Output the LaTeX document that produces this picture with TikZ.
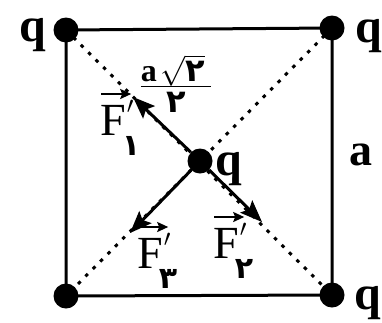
\RequirePackage{fix-cm}
\documentclass[tikz,border=0pt]{standalone}
\usepackage{fontspec}
\setmainfont{Liberation Serif}
\newfontfamily\arabicfont[Script=Arabic]{DejaVu Sans}
\usetikzlibrary{arrows.meta}
\tikzset{
  charge/.style={circle, fill=black, minimum size=25pt, inner sep=0pt},
  side/.style={line width=3pt},
  diag/.style={line width=3pt, dash pattern=on 3.5pt off 7pt},
  force/.style={line width=3pt, -{Stealth[length=22pt, width=17pt, inset=4pt]}},
  vecarrow/.style={line width=2pt, -{Stealth[length=11pt, width=10pt, inset=2pt]}},
  qlabel/.style={font=\fontsize{48}{50}\selectfont\bfseries, inner sep=0pt, anchor=base},
  flabel/.style={font=\fontsize{46}{50}\selectfont, inner sep=0pt, anchor=base west}
}
\newcommand{\pdigit}[2]{{\fontsize{#1}{#1}\selectfont\arabicfont\bfseries #2}}
\newcommand{\fvec}[1]{%
  \rlap{\tikz[baseline=0pt, x=1pt, y=1pt]\draw[vecarrow] (0,41) -- (30,41);}%
  F\rlap{\kern1pt\raisebox{22pt}{\fontsize{24}{24}\selectfont$\prime$}}%
  \kern-4pt\raisebox{-20pt}{\pdigit{30}{#1}}}
\begin{document}
\begin{tikzpicture}[x=1pt, y=-1pt]
\useasboundingbox (0,0) rectangle (382,322);
% charges
\node[charge] (tl) at (66,30) {};
\node[charge] (tr) at (332,28) {};
\node[charge] (bl) at (66,296) {};
\node[charge] (br) at (332,295) {};
\node[charge] (c) at (200,161) {};
% square
\draw[side] (tl.center) -- (tr.center) -- (br.center) -- (bl.center) -- cycle;
% diagonals
\draw[diag] (tl.center) -- (br.center);
\draw[diag] (tr.center) -- (bl.center);
% force tips
\coordinate (t1) at (133,97);
\coordinate (t2) at (262,222);
\coordinate (t3) at (130,233);
\draw[force] (c) -- (t1);
\draw[force] (c) -- (t2);
\draw[force] (c) -- (t3);
% labels
\node[qlabel] (qtl) at (33,41) {q};
\node[qlabel] (qtr) at (369,42) {q};
\node[qlabel] (qbr) at (368,309) {q};
\node[qlabel] (qc) at (229,175) {q};
\node[qlabel, font=\fontsize{46}{48}\selectfont\bfseries] (side) at (361,165) {a};
\node[flabel] (f1) at (100,135) {\fvec{۱}};
\node[flabel] (f3) at (137,268) {\fvec{۳}};
\node[flabel] (f2) at (213,258) {\fvec{۲}};
\node[inner sep=0pt, anchor=base, font=\fontsize{30}{34}\selectfont] (half) at (176,94)
  {$\frac{\mbox{\fontsize{32}{32}\selectfont\bfseries a}\,\sqrt{\mbox{\pdigit{32}{۲}}}\kern6pt}{\mbox{\rule{0pt}{25pt}\pdigit{32}{۲}}}$};
\end{tikzpicture}
\end{document}
